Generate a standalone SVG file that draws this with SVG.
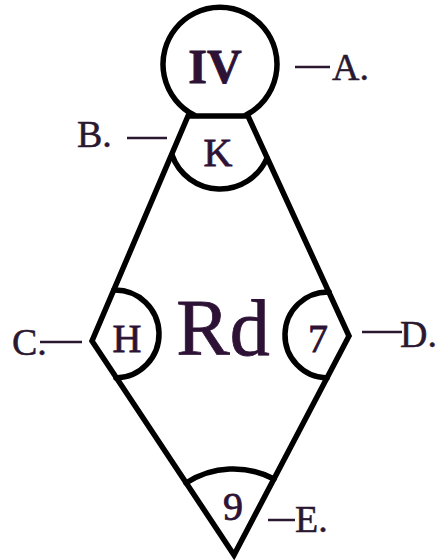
<svg xmlns="http://www.w3.org/2000/svg" width="439" height="560" viewBox="0 0 439 560">
<style>
.s{fill:none;stroke:#000;stroke-width:5.5;stroke-linejoin:miter;stroke-linecap:round}
text{font-family:'Times New Roman','Liberation Serif',Tinos,'DejaVu Serif',serif}
.t{fill:#2e1236;text-anchor:middle;stroke:#2e1236;stroke-width:0.8}
.l{fill:#2a1830;font-size:38px;stroke:#2a1830;stroke-width:0.5}
.d{stroke:#2a1830;stroke-width:2.5}
</style>
<rect width="439" height="560" fill="#fff"/>
<g id="connectors">
<path class="s" d="M188,116 L92,341 L234,555 L349,336 L248,116 Z"/>
</g>
<g id="node-IV">
<path class="s" d="M194,115 A57,57 0 1 1 246,115"/>
<text class="t" x="215" y="83" font-size="48" font-weight="bold">IV</text>
</g>
<g id="node-K">
<path class="s" d="M172,155 A51,51 0 0 0 267,158"/>
<text class="t" x="218" y="166" font-size="40">K</text>
</g>
<g id="node-H">
<path class="s" d="M114,290 A44,44 0 1 1 116,378"/>
<text class="t" x="127" y="352" font-size="40">H</text>
</g>
<g id="node-7">
<path class="s" d="M329,292 A43,43 0 1 0 327,378"/>
<text class="t" x="318" y="352" font-size="40">7</text>
</g>
<g id="node-9">
<path class="s" d="M186,483 A87,87 0 0 1 274,479"/>
<text class="t" x="233" y="520" font-size="40">9</text>
</g>
<g id="node-Rd">
<text class="t" x="223" y="355" font-size="80" stroke-width="1.5">Rd</text>
</g>
<g id="label-A">
<line class="d" x1="295" y1="67" x2="330" y2="67"/>
<text class="l" x="332" y="80">A.</text>
</g>
<g id="label-B">
<text class="l" x="77" y="147">B.</text>
<line class="d" x1="127" y1="138" x2="167" y2="138"/>
</g>
<g id="label-C">
<text class="l" x="12" y="355">C.</text>
<line class="d" x1="40" y1="342" x2="82" y2="342"/>
</g>
<g id="label-D">
<line class="d" x1="362" y1="332" x2="402" y2="332"/>
<text class="l" x="400" y="347">D.</text>
</g>
<g id="label-E">
<line class="d" x1="268" y1="520" x2="295" y2="520"/>
<text class="l" x="295" y="532">E.</text>
</g>
</svg>
